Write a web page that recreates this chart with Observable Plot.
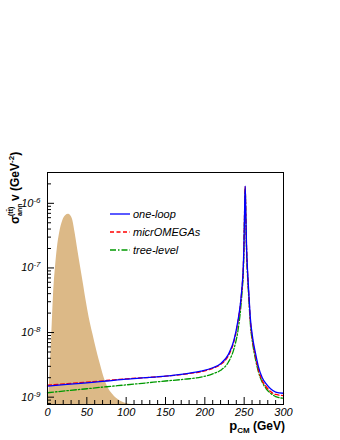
<!DOCTYPE html>
<html><head><meta charset="utf-8">
<script src="https://cdn.jsdelivr.net/npm/d3@7"></script>
<script src="https://cdn.jsdelivr.net/npm/@observablehq/plot@0.6"></script>
<style>body{margin:0;background:#fff}#chart svg{display:block}</style>
</head><body><div id="chart"></div>
<script>
// p_CM (GeV) sample points shared by the three curves
const pcm = [0,25,50,75,100,125,150,175,195,210,220,230,237,242,245.5,247.5,248.7,249.7,250.5,251.3,252.1,253,254.3,255.8,258,261,264.5,268,273,278,283.5,290,300];
const sigmaOneLoop = [1.48e-9,1.58e-9,1.67e-9,1.78e-9,1.90e-9,2.0e-9,2.12e-9,2.3e-9,2.52e-9,2.85e-9,3.3e-9,4.6e-9,7.6e-9,1.5e-8,3.0e-8,5.5e-8,9e-8,2.2e-7,7e-7,1.85e-6,7e-7,2.2e-7,9e-8,4.3e-8,1.6e-8,8e-9,4.7e-9,3.0e-9,2.0e-9,1.6e-9,1.35e-9,1.2e-9,1.15e-9];
const sigmaMicrOMEGAs = [1.53e-9,1.62e-9,1.71e-9,1.81e-9,1.92e-9,2.01e-9,2.11e-9,2.28e-9,2.48e-9,2.8e-9,3.2e-9,4.4e-9,7.3e-9,1.45e-8,2.9e-8,5.3e-8,8.8e-8,2.2e-7,7e-7,1.8e-6,7e-7,2.1e-7,8.5e-8,4.0e-8,1.45e-8,7.2e-9,4.2e-9,2.7e-9,1.8e-9,1.45e-9,1.22e-9,1.1e-9,1.06e-9];
const sigmaTree = [1.17e-9,1.26e-9,1.35e-9,1.45e-9,1.55e-9,1.66e-9,1.78e-9,1.9e-9,2.04e-9,2.3e-9,2.6e-9,3.5e-9,5.6e-9,1.05e-8,2.3e-8,4.5e-8,7.5e-8,1.9e-7,6e-7,1.7e-6,6e-7,1.9e-7,7.5e-8,3.5e-8,1.3e-8,6.5e-9,3.8e-9,2.5e-9,1.7e-9,1.35e-9,1.15e-9,1.02e-9,0.96e-9];
// momentum distribution (arbitrary units, drawn on the same axis)
const distP = [0,2.5,4,5.5,7.5,10.2,12.5,15.3,19.5,23,26.7,29.5,32.2,35.2,38.5,42,45.5,49,53,57.6,62.5,68.2,72,76.7,83,91.5,100,108];
const distV = [8e-10,1.6e-9,4e-9,9.6e-9,3.5e-8,1.04e-7,2.0e-7,3.4e-7,5.4e-7,6.4e-7,6.75e-7,6.4e-7,5.4e-7,3.4e-7,1.9e-7,1.04e-7,5.8e-8,3.15e-8,1.7e-8,9.6e-9,5.3e-9,2.9e-9,2.0e-9,1.43e-9,1.1e-9,8.9e-10,8.0e-10,7.7e-10];
// axes
const xDomain = [0,300];
const yDomain = [7.7e-10,3.0e-6];
const xMajor = [0,50,100,150,200,250,300];
const xMinor = [10,20,30,40,60,70,80,90,110,120,130,140,160,170,180,190,210,220,230,240,260,270,280,290];
const yMajor = [1e-9,1e-8,1e-7,1e-6];
const yMinor = [8e-10,9e-10];
for (const e of [-9,-8,-7]) for (let k=2;k<=9;k++) yMinor.push(k*Math.pow(10,e));
yMinor.push(2e-6);
const legendLabels = ["one-loop","micrOMEGAs","tree-level"];
const colors = ["#0000ff","#ff0000","#009900"];
const dashes = [null,"4,2.5","6,2,1.5,2"];

const rows = pcm.map((p,i)=>({p, one:sigmaOneLoop[i], mic:sigmaMicrOMEGAs[i], tree:sigmaTree[i]}));
const distRows = distP.map((p,i)=>({p, v:distV[i], base:yDomain[0]}));

const W=340,H=440,mL=47,mR=57,mT=172,mB=36;
const pw=W-mL-mR, ph=H-mT-mB;
const font="'Liberation Sans', Arial, Helvetica, sans-serif";

const plot = Plot.plot({
  width:W, height:H, marginLeft:mL, marginRight:mR, marginTop:mT, marginBottom:mB,
  style:{fontFamily:font, background:"#fff", color:"#000"},
  x:{domain:xDomain, label:null},
  y:{type:"log", domain:yDomain, label:null},
  marks:[
    Plot.areaY(distRows,{x:"p", y1:"base", y2:"v", fill:"#dcb987", curve:"monotone-x"}),
    Plot.line(rows,{x:"p", y:"tree", stroke:colors[2], strokeWidth:1.3, strokeDasharray:dashes[2], curve:"monotone-x"}),
    Plot.line(rows,{x:"p", y:"mic", stroke:colors[1], strokeWidth:1.3, strokeDasharray:dashes[1], curve:"monotone-x"}),
    Plot.line(rows,{x:"p", y:"one", stroke:colors[0], strokeWidth:1.3, curve:"monotone-x"}),
    Plot.ruleY(yMajor,{y:d=>d, insetRight:pw-7, stroke:"#000"}),
    Plot.ruleY(yMinor,{y:d=>d, insetRight:pw-4, stroke:"#000"}),
    Plot.ruleX(xMajor,{x:d=>d, insetTop:ph-7, stroke:"#000"}),
    Plot.ruleX(xMinor,{x:d=>d, insetTop:ph-4, stroke:"#000"}),
    Plot.axisX({ticks:xMajor, tickSize:0, tickPadding:4, fontSize:11, fontStyle:"italic", tickFormat:d=>String(d)}),
    Plot.axisY({ticks:yMajor, tickSize:0, tickPadding:7, fontSize:11, fontStyle:"italic", tickFormat:d=>"10^"+Math.round(Math.log10(d))}),
    Plot.frame({stroke:"#000", strokeWidth:1})
  ]
});
document.getElementById("chart").appendChild(plot);
const svg = d3.select(plot);

// superscripts on y tick labels
svg.selectAll('g[aria-label="y-axis tick label"] text').each(function(){
  const t = d3.select(this); const s = t.text();
  if (!s.includes("^")) return;
  const [b,e] = s.split("^");
  t.text(null);
  t.append("tspan").text(b);
  t.append("tspan").attr("font-size",8).attr("dy","-0.5em").text(e);
});

// legend
const lg = svg.append("g").attr("font-family",font).attr("text-anchor","start");
legendLabels.forEach((lab,i)=>{
  const y = 214 + i*18;
  lg.append("line").attr("x1",110).attr("x2",130).attr("y1",y).attr("y2",y)
    .attr("stroke",colors[i]).attr("stroke-width",1.3).attr("stroke-dasharray",dashes[i]);
  lg.append("text").attr("x",133).attr("y",y+4).attr("font-size",11).attr("font-style","italic").text(lab);
});

// x title
const xt = svg.append("text").attr("font-family",font).attr("font-weight","bold")
  .attr("text-anchor","end").attr("x",285).attr("y",430).attr("font-size",12);
xt.append("tspan").attr("font-size",13).text("p");
xt.append("tspan").attr("font-size",8).attr("dy",3).text("CM");
xt.append("tspan").attr("dy",-3).text(" (GeV)");

// y title (rotated)
const yt = svg.append("g").attr("transform","translate(19,188) rotate(-90)")
  .attr("font-family",font).attr("font-weight","bold").attr("text-anchor","start");
yt.append("text").attr("x",-36).attr("y",0).attr("font-size",12).text("σ");
yt.append("text").attr("x",-28).attr("y",-6).attr("font-size",7).text("(tt\u0304)");
yt.append("text").attr("x",-28).attr("y",3).attr("font-size",7).text("ann");
const ym = yt.append("text").attr("x",-13).attr("y",0).attr("font-size",12);
ym.append("tspan").text("v (GeV");
ym.append("tspan").attr("font-size",8).attr("dy",-5).text("-2");
ym.append("tspan").attr("dy",5).text(")");
</script>
</body></html>
